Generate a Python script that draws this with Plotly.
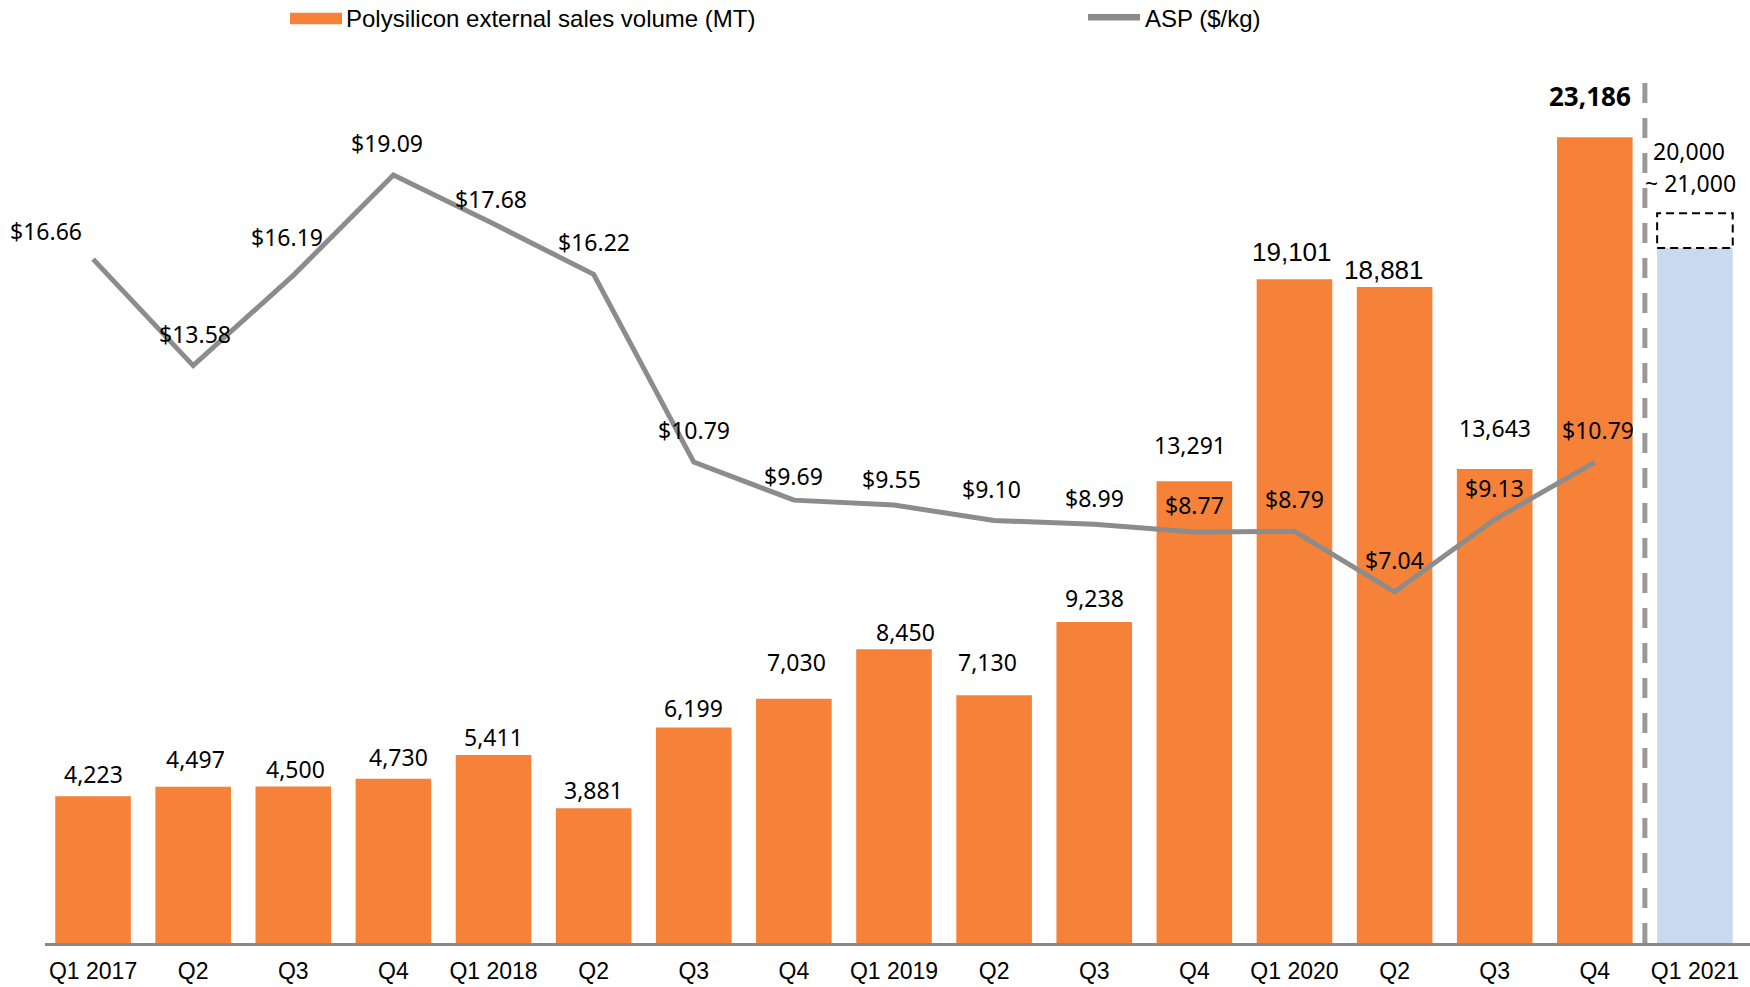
import plotly.graph_objects as go

# ---------------- data ----------------
quarters = ["Q1 2017", "Q2", "Q3", "Q4", "Q1 2018", "Q2", "Q3", "Q4",
            "Q1 2019", "Q2", "Q3", "Q4", "Q1 2020", "Q2", "Q3", "Q4", "Q1 2021"]
volume = [4223, 4497, 4500, 4730, 5411, 3881, 6199, 7030,
          8450, 7130, 9238, 13291, 19101, 18881, 13643, 23186]
asp = [16.66, 13.58, 16.19, 19.09, 17.68, 16.22, 10.79, 9.69,
       9.55, 9.10, 8.99, 8.77, 8.79, 7.04, 9.13, 10.79]
guidance_low = 20000
guidance_high = 21000
guidance_text = ["20,000", "~ 21,000"]
vol_labels = [f"{v:,}" for v in volume]
asp_labels = [f"${v:.2f}" for v in asp]
legend_names = ["Polysilicon external sales volume (MT)", "ASP ($/kg)"]

# ---------------- style ----------------
W, H = 1750, 987
ML, MR, MT, MB = 45, 0, 60, 44
PW, PH = W - ML - MR, H - MT - MB
ORANGE = "#F58238"
LIGHTBLUE = "#C9D9F0"
GRAY = "#8C8C8C"
BAR_W = 0.755
LABEL_FONT = "Noto Sans"
AXIS_FONT = "Liberation Sans, Arial"

# label placement (pixel offsets from the mark)
vol_dy = [22, 28, 18, 22, 18, 18, 20, 37, 17, 33, 23.5, 36, 27.6, 16.7, 41, 41]
vol_dx = [0, 2, 2, 5, 0, 0, 0, 3, 11, -7, 0, -4, -2, -11, 0, -5]
vol_arial = {12, 13}
asp_dy = [28, 32, 38, 32, 25, 32, 32, 24, 26, 32, 26, 27, 32, 32, 32, 32]
asp_dx = [-47, 2, -6, -6, -3, 0, 0, 0, -3, -3, 0, 0, 0, 0, 0, 3]

idx = list(range(len(quarters)))
n_act = len(volume)


def px2x(px):
    return (px - ML) / PW


def py2y(py):
    return (H - MB - py) / PH


fig = go.Figure()
fig.add_trace(go.Bar(x=idx[:n_act], y=volume, width=BAR_W,
                     marker=dict(color=ORANGE, line=dict(width=0)),
                     name=legend_names[0], showlegend=False))
fig.add_trace(go.Bar(x=[idx[n_act]], y=[guidance_low], width=BAR_W,
                     marker=dict(color=LIGHTBLUE, line=dict(width=0)),
                     showlegend=False))
fig.add_trace(go.Scatter(x=idx[:n_act], y=asp, yaxis="y2", mode="lines",
                         line=dict(color=GRAY, width=5),
                         name=legend_names[1], showlegend=False))

annotations = []
# volume labels
for i, (v, t) in enumerate(zip(volume, vol_labels)):
    last = (i == n_act - 1)
    if last:
        font = dict(family=LABEL_FONT, size=26, color="#000")
        txt = f"<b>{t}</b>"
    elif i in vol_arial:
        font = dict(family=AXIS_FONT, size=26, color="#000")
        txt = t
    else:
        font = dict(family=LABEL_FONT, size=23, color="#000")
        txt = t
    annotations.append(dict(
        x=i, y=v, xref="x", yref="y", text=txt,
        showarrow=False, yanchor="middle", xanchor="center",
        yshift=vol_dy[i], xshift=vol_dx[i], font=font))

# ASP labels
for i, (v, t) in enumerate(zip(asp, asp_labels)):
    annotations.append(dict(
        x=i, y=v, xref="x", yref="y2", text=t, showarrow=False,
        yanchor="middle", xanchor="center",
        yshift=asp_dy[i], xshift=asp_dx[i],
        font=dict(family=LABEL_FONT, size=23, color="#000")))

# guidance text
annotations.append(dict(x=idx[n_act], y=guidance_high, xref="x", yref="y",
                        text=guidance_text[0], showarrow=False,
                        yanchor="middle", xanchor="center", yshift=62, xshift=-6,
                        font=dict(family=LABEL_FONT, size=23, color="#000")))
annotations.append(dict(x=idx[n_act], y=guidance_high, xref="x", yref="y",
                        text=guidance_text[1], showarrow=False,
                        yanchor="middle", xanchor="center", yshift=30, xshift=-4,
                        font=dict(family=LABEL_FONT, size=23, color="#000")))

# legend texts
annotations.append(dict(x=px2x(344), y=py2y(18), xref="paper", yref="paper",
                        text=legend_names[0], showarrow=False,
                        xanchor="left", yanchor="middle",
                        font=dict(family=AXIS_FONT, size=24, color="#000")))
annotations.append(dict(x=px2x(1143), y=py2y(18), xref="paper", yref="paper",
                        text=legend_names[1], showarrow=False,
                        xanchor="left", yanchor="middle",
                        font=dict(family=AXIS_FONT, size=24, color="#000")))

shapes = [
    # separator dashed line between actual and guidance
    dict(type="line", xref="x", yref="paper",
         x0=n_act - 0.5, x1=n_act - 0.5, y0=0, y1=py2y(68),
         line=dict(color="#999999", width=5, dash="20px,15px")),
    # guidance dashed box
    dict(type="rect", xref="x", yref="y",
         x0=idx[n_act] - BAR_W / 2, x1=idx[n_act] + BAR_W / 2,
         y0=guidance_low, y1=guidance_high,
         line=dict(color="#000", width=2, dash="8px,5px"),
         fillcolor="rgba(255,255,255,0)"),
    # legend swatches
    dict(type="rect", xref="paper", yref="paper",
         x0=px2x(290), x1=px2x(342), y0=py2y(24.3), y1=py2y(12.7),
         line=dict(width=0), fillcolor=ORANGE),
    dict(type="line", xref="paper", yref="paper",
         x0=px2x(1088), x1=px2x(1140), y0=py2y(17.3), y1=py2y(17.3),
         line=dict(color=GRAY, width=6.5)),
]

fig.update_layout(
    width=W, height=H,
    margin=dict(l=ML, r=MR, t=MT, b=MB, pad=0, autoexpand=False),
    plot_bgcolor="white", paper_bgcolor="white",
    barmode="overlay", showlegend=False,
    xaxis=dict(range=[-0.48, 16.55], tickmode="array", tickvals=idx,
               ticktext=quarters, showgrid=False, zeroline=False,
               automargin=False,
               showline=True, linecolor="#888888", linewidth=2.5,
               ticks="outside", ticklen=6, tickcolor="rgba(0,0,0,0)",
               tickfont=dict(family=AXIS_FONT, size=23, color="#000")),
    yaxis=dict(range=[0, 25410], visible=False, showgrid=False,
               automargin=False),
    yaxis2=dict(range=[-3.117, 22.418], overlaying="y", visible=False,
                showgrid=False, automargin=False),
    annotations=annotations, shapes=shapes,
)

fig.write_html("out.html")
with open("out.html", "r", encoding="utf-8") as f:
    html = f.read()
html = html.replace("<head>", "<head><style>html,body{margin:0;padding:0;overflow:hidden}</style>", 1)
with open("out.html", "w", encoding="utf-8") as f:
    f.write(html)
